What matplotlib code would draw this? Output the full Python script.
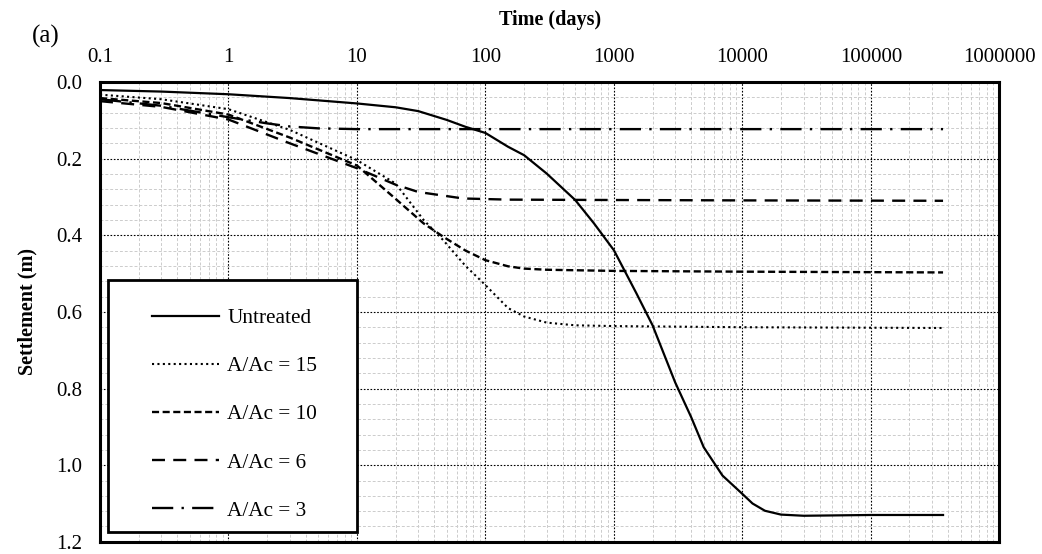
import matplotlib
matplotlib.use("Agg")
from matplotlib import pyplot as plt
from matplotlib.patches import Rectangle
from matplotlib.ticker import FixedLocator, MultipleLocator, FuncFormatter, NullFormatter
import numpy as np

plt.rcParams['font.family'] = ['Liberation Serif', 'DejaVu Serif']

# settlement curves, time in days, settlement in m
t_untreated = [0.1, 0.3, 1, 3, 10, 20, 30, 50, 70, 100, 150, 200, 300, 500, 700, 1000,
               1500, 2000, 3000, 4000, 5000, 7000, 10000, 12000, 15000, 20000, 30000,
               100000, 365000]
s_untreated = [0.021, 0.025, 0.032, 0.042, 0.056, 0.066, 0.076, 0.099, 0.117, 0.133,
               0.169, 0.191, 0.239, 0.308, 0.369, 0.439, 0.552, 0.635, 0.784, 0.875,
               0.953, 1.027, 1.075, 1.100, 1.119, 1.129, 1.132, 1.130, 1.130]

t_15 = [0.1, 0.3, 1, 3, 10, 20, 33, 47, 70, 100, 150, 200, 300, 500, 1000, 10000, 365000]
s_15 = [0.033, 0.045, 0.071, 0.125, 0.204, 0.265, 0.360, 0.413, 0.480, 0.530, 0.590,
        0.612, 0.628, 0.635, 0.637, 0.640, 0.642]

t_10 = [0.1, 0.3, 1, 3, 10, 20, 33, 47, 70, 100, 150, 200, 300, 1000, 10000, 365000]
s_10 = [0.042, 0.055, 0.085, 0.145, 0.218, 0.305, 0.369, 0.404, 0.440, 0.465, 0.481,
        0.487, 0.490, 0.493, 0.495, 0.497]

t_6 = [0.1, 0.3, 1, 3, 10, 20, 30, 67, 150, 1000, 10000, 365000]
s_6 = [0.050, 0.065, 0.098, 0.160, 0.225, 0.268, 0.287, 0.304, 0.307, 0.308, 0.309, 0.310]

t_3 = [0.1, 0.3, 1, 2, 3, 5, 10, 100, 10000, 365000]
s_3 = [0.045, 0.062, 0.092, 0.108, 0.116, 0.121, 0.123, 0.123, 0.123, 0.123]

time_ticks = [0.1, 1, 10, 100, 1000, 10000, 100000, 1000000]

fig = plt.figure(figsize=(10.42, 5.54), dpi=100)
ax = fig.add_axes([0.096, 0.022, 0.863, 0.830])

ax.plot(t_untreated, s_untreated, color='black', lw=1.6, ls='-', label='Untreated')
ax.plot(t_15, s_15, color='black', lw=1.5, ls=(0, (1, 1.6)), label='A/Ac = 15')
ax.plot(t_10, s_10, color='black', lw=1.7, ls=(0, (3, 1.5)), label='A/Ac = 10')
ax.plot(t_6, s_6, color='black', lw=1.7, ls=(0, (5.5, 3.5)), label='A/Ac = 6')
ax.plot(t_3, s_3, color='black', lw=1.7, ls=(0, (9, 3.5, 1, 3.5)), label='A/Ac = 3')

ax.set_xscale('log')
ax.set_xlim(0.1, 1e6)
ax.set_ylim(1.2, 0.0)

ax.xaxis.tick_top()
ax.xaxis.set_label_position('top')
ax.xaxis.set_major_locator(FixedLocator(time_ticks))
minor = [m * d for d in time_ticks[:-1] for m in range(2, 10)]
ax.xaxis.set_minor_locator(FixedLocator(minor))
ax.xaxis.set_major_formatter(FuncFormatter(lambda v, p: f"{v:.10g}"))
ax.xaxis.set_minor_formatter(NullFormatter())
ax.yaxis.set_major_locator(MultipleLocator(0.2))
ax.yaxis.set_minor_locator(MultipleLocator(0.04))
ax.yaxis.set_major_formatter(FuncFormatter(lambda v, p: f"{v:.1f}"))

ax.tick_params(which='both', length=0, labelsize=15)
ax.tick_params(axis='x', pad=11)
ax.tick_params(axis='y', pad=13)

ax.grid(which='major', color='black', ls=(0, (1.5, 1.5)), lw=0.8)
ax.grid(which='minor', color='#cccccc', ls=(0, (3, 2)), lw=0.7)
ax.set_axisbelow(True)
for sp in ax.spines.values():
    sp.set_linewidth(2.2)
    sp.set_color('black')

ax.set_xlabel('Time (days)', fontsize=14.5, fontweight='bold', labelpad=16)
ax.set_ylabel('Settlement (m)', fontsize=14.5, fontweight='bold', labelpad=13)

fig.text(0.044, 0.935, '(a)', fontsize=18, ha='center', va='center')

# legend box drawn separately so the entries can sit inside it freely
box = Rectangle((0.009, 0.0217), 0.277, 0.548, transform=ax.transAxes,
                facecolor='white', edgecolor='black', lw=2.0, zorder=4)
ax.add_patch(box)
leg = ax.legend(loc='center left', bbox_to_anchor=(0.058, 0.277),
                borderaxespad=0, borderpad=0, fontsize=15.3, handlelength=3.15,
                labelspacing=1.33, handletextpad=0.38, frameon=False)
leg.set_zorder(5)

fig.savefig('out.png', dpi=100)
